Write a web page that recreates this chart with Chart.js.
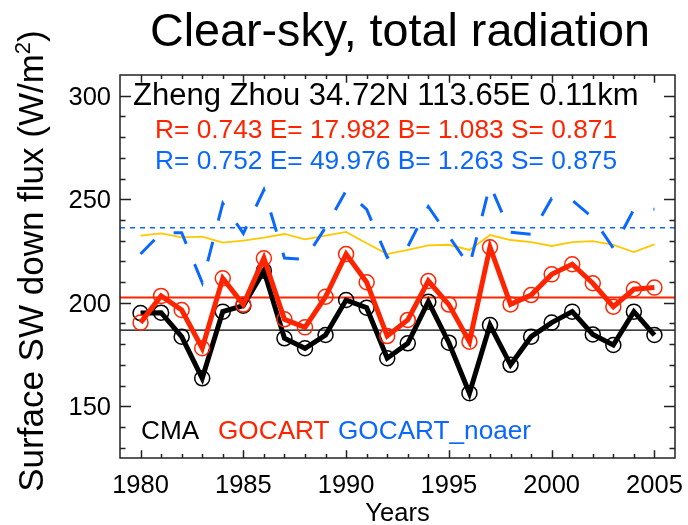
<!DOCTYPE html>
<html>
<head>
<meta charset="utf-8">
<script src="https://cdn.jsdelivr.net/npm/chart.js@4/dist/chart.umd.min.js"></script>
<style>
  html, body { margin: 0; padding: 0; background: #fff; }
  canvas { display: block; }
</style>
</head>
<body>
<canvas id="flux" width="688" height="525"></canvas>
<script>
const years = [1980, 1981, 1982, 1983, 1984, 1985, 1986, 1987, 1988, 1989, 1990, 1991, 1992,
               1993, 1994, 1995, 1996, 1997, 1998, 1999, 2000, 2001, 2002, 2003, 2004, 2005];

// station observations
const cma = [195.0, 195.2, 183.6, 163.5, 195.7, 198.6, 215.5, 182.8, 178.0, 184.4, 201.3, 197.6, 173.2,
             180.4, 200.5, 180.7, 156.3, 189.2, 170.0, 183.6, 190.4, 195.7, 184.7, 179.6, 195.7, 184.4];
// model with aerosols
const gocart = [190.4, 203.3, 196.5, 178.0, 211.8, 199.1, 221.5, 192.0, 188.1, 202.9, 223.5, 209.9, 183.9,
                191.7, 210.5, 199.1, 181.2, 226.8, 199.2, 203.7, 213.7, 218.6, 209.4, 198.1, 206.5, 207.3];
// model without aerosols
const gocartNoaer = [223.5, 233.7, 233.8, 209.7, 248.0, 233.5, 254.5, 221.6, 221.0, 236.4, 254.1, 245.1, 221.9,
                     227.1, 246.4, 232.1, 217.7, 256.9, 234.0, 233.0, 250.4, 249.5, 241.1, 226.3, 245.1, 245.1];
// thin gold reference curve
const goldLine = [232.4, 233.5, 231.6, 231.9, 229.0, 230.0, 231.4, 233.2, 230.6, 232.4, 234.2, 228.7, 223.5,
                  225.5, 227.7, 228.0, 225.5, 232.7, 230.3, 229.3, 227.4, 229.3, 229.8, 227.9, 224.5, 228.2];

const xTicks = [1980, 1985, 1990, 1995, 2000, 2005];
const yTicks = [150, 200, 250, 300];

const RED = 'rgb(255,36,0)';
const BLUE = 'rgb(10,104,255)';
const GOLD = 'rgb(255,200,0)';
const FONT = "'Liberation Sans', Arial, Helvetica, sans-serif";

const pts = arr => years.map((yr, i) => ({ x: yr, y: arr[i] }));
const mean = arr => arr.reduce((a, b) => a + b, 0) / arr.length;
const flat = v => [{ x: 1979, y: v }, { x: 2006, y: v }];

// IDL-style frame: inward ticks on all sides plus all text
const frame = {
  id: 'frame',
  afterDraw(chart) {
    const { ctx, chartArea: a, scales: { x, y } } = chart;
    ctx.save();
    ctx.strokeStyle = '#222';
    ctx.lineWidth = 1.5;
    ctx.strokeRect(a.left, a.top, a.right - a.left, a.bottom - a.top);

    ctx.beginPath();
    for (let v = 130; v <= 300; v += 10) {
      const py = Math.round(y.getPixelForValue(v)) + 0.5;
      const len = v % 50 === 0 ? 11 : 5.5;
      ctx.moveTo(a.left, py); ctx.lineTo(a.left + len, py);
      ctx.moveTo(a.right, py); ctx.lineTo(a.right - len, py);
    }
    for (let yr = 1980; yr <= 2005; yr++) {
      const px = Math.round(x.getPixelForValue(yr)) + 0.5;
      const len = yr % 5 === 0 ? 7.7 : 3.9;
      ctx.moveTo(px, a.bottom); ctx.lineTo(px, a.bottom - len);
      ctx.moveTo(px, a.top); ctx.lineTo(px, a.top + len);
    }
    ctx.stroke();

    ctx.fillStyle = '#000';
    ctx.font = '25.5px ' + FONT;
    ctx.textBaseline = 'alphabetic';
    ctx.textAlign = 'right';
    yTicks.forEach(v => ctx.fillText(String(v), a.left - 9, y.getPixelForValue(v) + 9));
    ctx.textAlign = 'center';
    xTicks.forEach(v => ctx.fillText(String(v), x.getPixelForValue(v), 493));
    ctx.fillText('Years', (a.left + a.right) / 2, 521);

    // title
    ctx.font = '46.7px ' + FONT;
    ctx.textAlign = 'left';
    ctx.fillText('Clear-sky, total radiation', 150, 46);

    // y axis title with superscript
    ctx.save();
    ctx.translate(43, 261);
    ctx.rotate(-Math.PI / 2);
    ctx.font = '35px ' + FONT;
    const p1 = 'Surface SW down flux (W/m', p2 = ')';
    const w1 = ctx.measureText(p1).width, w2 = ctx.measureText(p2).width;
    ctx.font = '22px ' + FONT;
    const ws = ctx.measureText('2').width;
    let x0 = -(w1 + ws + w2) / 2;
    ctx.font = '35px ' + FONT;
    ctx.fillText(p1, x0, 0);
    ctx.font = '22px ' + FONT;
    ctx.fillText('2', x0 + w1, -13);
    ctx.font = '35px ' + FONT;
    ctx.fillText(p2, x0 + w1 + ws, 0);
    ctx.restore();

    // station and statistics
    ctx.font = '31px ' + FONT;
    ctx.fillText('Zheng Zhou 34.72N 113.65E 0.11km', 133, 105);
    ctx.font = '26.3px ' + FONT;
    ctx.fillStyle = RED;
    ctx.fillText('R= 0.743 E= 17.982 B= 1.083 S= 0.871', 155, 138);
    ctx.fillStyle = BLUE;
    ctx.fillText('R= 0.752 E= 49.976 B= 1.263 S= 0.875', 155, 169);

    // legend
    ctx.font = '26.2px ' + FONT;
    ctx.fillStyle = '#000';
    ctx.fillText('CMA', 141, 439);
    ctx.fillStyle = RED;
    ctx.fillText('GOCART', 218, 439);
    ctx.fillStyle = BLUE;
    ctx.fillText('GOCART_noaer', 338, 439);
    ctx.restore();
  }
};

new Chart(document.getElementById('flux'), {
  type: 'line',
  data: {
    datasets: [
      {
        label: 'GOCART',
        data: pts(gocart),
        borderColor: RED,
        borderWidth: 5,
        pointRadius: 7.5,
        pointBorderWidth: 1.5,
        pointBorderColor: RED,
        pointBackgroundColor: 'rgba(0,0,0,0)'
      },
      {
        label: 'CMA',
        data: pts(cma),
        borderColor: '#000',
        borderWidth: 5,
        pointRadius: 7.5,
        pointBorderWidth: 1.5,
        pointBorderColor: '#000',
        pointBackgroundColor: 'rgba(0,0,0,0)'
      },
      {
        label: 'GOCART_noaer',
        data: pts(gocartNoaer),
        borderColor: BLUE,
        borderWidth: 3,
        borderDash: [20, 22],
        pointRadius: 0
      },
      {
        label: 'gold',
        data: pts(goldLine),
        borderColor: GOLD,
        borderWidth: 1.8,
        pointRadius: 0
      },
      {
        label: 'GOCART mean',
        data: flat(mean(gocart)),
        borderColor: RED,
        borderWidth: 2,
        pointRadius: 0
      },
      {
        label: 'CMA mean',
        data: flat(mean(cma)),
        borderColor: '#000',
        borderWidth: 1.3,
        pointRadius: 0
      },
      {
        label: 'GOCART_noaer mean',
        data: flat(mean(gocartNoaer)),
        borderColor: BLUE,
        borderWidth: 1.5,
        borderDash: [5, 5],
        pointRadius: 0
      }
    ]
  },
  options: {
    responsive: false,
    animation: false,
    devicePixelRatio: 1,
    layout: { padding: { left: 120, right: 13, top: 75, bottom: 67 } },
    elements: { line: { tension: 0, fill: false } },
    scales: {
      x: { type: 'linear', min: 1979, max: 2006, display: false },
      y: { type: 'linear', min: 125, max: 310, display: false }
    },
    plugins: {
      legend: { display: false },
      title: { display: false },
      tooltip: { enabled: false }
    }
  },
  plugins: [frame]
});
</script>
</body>
</html>
